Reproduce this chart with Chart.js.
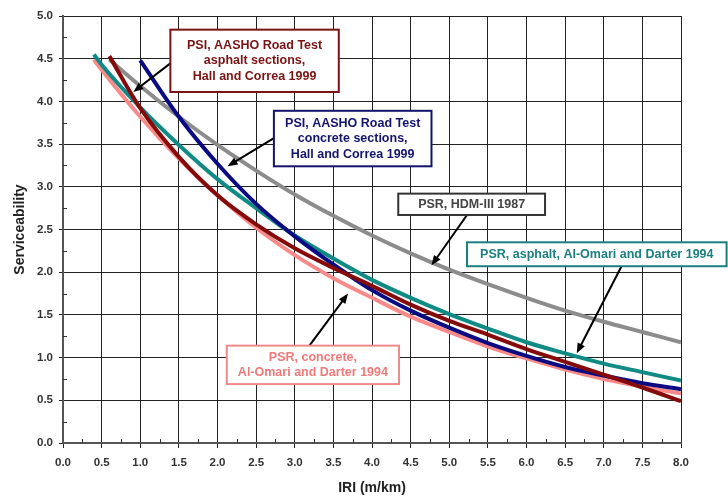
<!DOCTYPE html>
<html>
<head>
<meta charset="utf-8">
<script src="https://cdn.jsdelivr.net/npm/chart.js@4/dist/chart.umd.min.js"></script>
<style>
    html, body { margin: 0; padding: 0; background: #ffffff; }
    #wrap { width: 728px; height: 497px; position: relative; }
</style>
</head>
<body>
<div id="wrap"><canvas id="serviceabilityChart"></canvas></div>
<script>
// IRI values (m/km) for each curve
const iriAlOmari = [0.4, 0.5, 1.0, 1.5, 2.0, 2.5, 3.0, 3.5, 4.0, 4.5, 5.0, 5.5, 6.0, 6.5, 7.0, 7.5, 8.0];
const iriFrom06 = [0.6, 1.0, 1.5, 2.0, 2.5, 3.0, 3.5, 4.0, 4.5, 5.0, 5.5, 6.0, 6.5, 7.0, 7.5, 8.0];
const iriFrom10 = [1.0, 1.5, 2.0, 2.5, 3.0, 3.5, 4.0, 4.5, 5.0, 5.5, 6.0, 6.5, 7.0, 7.5, 8.0];

// Serviceability values
const psrAsphaltAlOmari = [4.55, 4.43, 3.93, 3.49, 3.09, 2.75, 2.43, 2.16, 1.91, 1.70, 1.51, 1.34, 1.18, 1.05, 0.93, 0.83, 0.73];
const psrConcreteAlOmari = [4.49, 4.37, 3.82, 3.33, 2.90, 2.52, 2.20, 1.93, 1.70, 1.48, 1.30, 1.13, 0.99, 0.86, 0.75, 0.66, 0.58];
const psiAsphaltHall = [4.53, 3.92, 3.35, 2.90, 2.56, 2.28, 2.05, 1.84, 1.62, 1.43, 1.27, 1.10, 0.95, 0.80, 0.65, 0.49];
const psrHdm3 = [4.49, 4.18, 3.82, 3.49, 3.19, 2.91, 2.66, 2.43, 2.22, 2.03, 1.86, 1.70, 1.55, 1.42, 1.30, 1.18];
const psiConcreteHall = [4.48, 3.82, 3.27, 2.80, 2.42, 2.09, 1.79, 1.55, 1.35, 1.17, 1.02, 0.89, 0.79, 0.70, 0.63];

// Axis ticks
const xTicks = [0, 0.5, 1, 1.5, 2, 2.5, 3, 3.5, 4, 4.5, 5, 5.5, 6, 6.5, 7, 7.5, 8];
const yTicks = [0, 0.5, 1, 1.5, 2, 2.5, 3, 3.5, 4, 4.5, 5];

// Callout labels
const calloutText = [
    ['PSI, AASHO Road Test', 'asphalt sections,', 'Hall and Correa 1999'],
    ['PSI, AASHO Road Test', 'concrete sections,', 'Hall and Correa 1999'],
    ['PSR, HDM-III 1987'],
    ['PSR, asphalt, Al-Omari and Darter 1994'],
    ['PSR, concrete,', 'Al-Omari and Darter 1994']
];

function toPoints(xs, ys) {
    return xs.map((x, i) => ({ x: x, y: ys[i] }));
}

// Callout boxes: box corners and arrow in data units
const callouts = [
    { text: calloutText[0], box: [1.39, 4.84, 3.57, 4.11], from: [1.41, 4.46], to: [0.91, 4.11], color: '#7a1414', textColor: '#7a1414' },
    { text: calloutText[1], box: [2.73, 3.89, 4.77, 3.24], from: [2.73, 3.57], to: [2.13, 3.24], color: '#14146e', textColor: '#14146e' },
    { text: calloutText[2], box: [4.34, 2.92, 6.24, 2.67], from: [5.23, 2.67], to: [4.77, 2.08], color: '#333333', textColor: '#444444' },
    { text: calloutText[3], box: [5.23, 2.35, 8.59, 2.07], from: [7.23, 2.07], to: [6.65, 1.05], color: '#1a7f7f', textColor: '#1a7f7f' },
    { text: calloutText[4], box: [2.12, 1.14, 4.35, 0.69], from: [3.19, 1.14], to: [3.69, 1.75], color: '#f08a8a', textColor: '#f07a7a' }
];

const calloutPlugin = {
    id: 'callouts',
    afterDatasetsDraw(chart) {
        const ctx = chart.ctx;
        const xs = chart.scales.x;
        const ys = chart.scales.y;
        ctx.save();

        // minor ticks at quarter steps
        ctx.strokeStyle = '#333';
        ctx.lineWidth = 1;
        for (let v = 0.25; v < 8; v += 0.5) {
            const px = Math.round(xs.getPixelForValue(v)) + 0.5;
            ctx.beginPath();
            ctx.moveTo(px, ys.bottom);
            ctx.lineTo(px, ys.bottom - 4);
            ctx.stroke();
        }
        for (let v = 0.25; v < 5; v += 0.5) {
            const py = Math.round(ys.getPixelForValue(v)) + 0.5;
            ctx.beginPath();
            ctx.moveTo(xs.left, py);
            ctx.lineTo(xs.left + 4, py);
            ctx.stroke();
        }

        callouts.forEach(c => {
            const x1 = xs.getPixelForValue(c.box[0]);
            const y1 = ys.getPixelForValue(c.box[1]);
            const x2 = xs.getPixelForValue(c.box[2]);
            const y2 = ys.getPixelForValue(c.box[3]);

            // arrow
            const fx = xs.getPixelForValue(c.from[0]);
            const fy = ys.getPixelForValue(c.from[1]);
            const tx = xs.getPixelForValue(c.to[0]);
            const ty = ys.getPixelForValue(c.to[1]);
            const ang = Math.atan2(ty - fy, tx - fx);
            ctx.strokeStyle = '#000';
            ctx.fillStyle = '#000';
            ctx.lineWidth = 2;
            ctx.beginPath();
            ctx.moveTo(fx, fy);
            ctx.lineTo(tx - 6 * Math.cos(ang), ty - 6 * Math.sin(ang));
            ctx.stroke();
            ctx.beginPath();
            ctx.moveTo(tx, ty);
            ctx.lineTo(tx - 10 * Math.cos(ang) + 4 * Math.sin(ang), ty - 10 * Math.sin(ang) - 4 * Math.cos(ang));
            ctx.lineTo(tx - 10 * Math.cos(ang) - 4 * Math.sin(ang), ty - 10 * Math.sin(ang) + 4 * Math.cos(ang));
            ctx.closePath();
            ctx.fill();

            // box
            ctx.fillStyle = '#ffffff';
            ctx.fillRect(x1, y1, x2 - x1, y2 - y1);
            ctx.strokeStyle = c.color;
            ctx.lineWidth = 2;
            ctx.strokeRect(x1, y1, x2 - x1, y2 - y1);

            // text
            ctx.fillStyle = c.textColor;
            ctx.font = 'bold 12.5px "Liberation Sans", Arial, sans-serif';
            ctx.textAlign = 'center';
            ctx.textBaseline = 'middle';
            const cx = (x1 + x2) / 2;
            const cy = (y1 + y2) / 2;
            const lh = 15.5;
            c.text.forEach((line, i) => {
                ctx.fillText(line, cx, cy + (i - (c.text.length - 1) / 2) * lh);
            });
        });
        ctx.restore();
    }
};

const ctx1 = document.getElementById('serviceabilityChart').getContext('2d');
new Chart(ctx1, {
    type: 'line',
    data: {
        datasets: [
            {
                label: 'PSR, HDM-III 1987',
                data: toPoints(iriFrom06, psrHdm3),
                borderColor: '#8c8c8c',
                order: 5
            },
            {
                label: 'PSR, concrete, Al-Omari and Darter 1994',
                data: toPoints(iriAlOmari, psrConcreteAlOmari),
                borderColor: '#f88a8a',
                order: 4
            },
            {
                label: 'PSR, asphalt, Al-Omari and Darter 1994',
                data: toPoints(iriAlOmari, psrAsphaltAlOmari),
                borderColor: '#0f8a84',
                order: 3
            },
            {
                label: 'PSI, AASHO Road Test concrete sections',
                data: toPoints(iriFrom10, psiConcreteHall),
                borderColor: '#0a0a82',
                order: 2
            },
            {
                label: 'PSI, AASHO Road Test asphalt sections',
                data: toPoints(iriFrom06, psiAsphaltHall),
                borderColor: '#850a0a',
                order: 1
            }
        ]
    },
    options: {
        responsive: true,
        maintainAspectRatio: false,
        animation: false,
        layout: { padding: { top: 16, right: 47, left: 12, bottom: 0 } },
        elements: {
            point: { radius: 0 },
            line: { borderWidth: 4, cubicInterpolationMode: 'monotone', fill: false }
        },
        plugins: {
            legend: { display: false },
            tooltip: { enabled: false }
        },
        scales: {
            x: {
                type: 'linear',
                min: 0,
                max: 8,
                afterBuildTicks: function(scale) {
                    scale.ticks = xTicks.map(v => ({ value: v }));
                },
                afterFit: function(scale) { scale.height = 54; },
                ticks: {
                    color: '#333',
                    font: { family: '"Liberation Sans", Arial, sans-serif', size: 11.5, weight: 'bold' },
                    padding: 8,
                    maxRotation: 0,
                    callback: function(value) { return value.toFixed(1); }
                },
                grid: { color: '#222', lineWidth: 1, tickLength: 5 },
                border: { color: '#555', width: 2 },
                title: {
                    display: true,
                    text: 'IRI (m/km)',
                    color: '#222',
                    font: { family: '"Liberation Sans", Arial, sans-serif', size: 14, weight: 'bold' },
                    padding: { top: 2, bottom: 0 }
                }
            },
            y: {
                min: 0,
                max: 5,
                afterBuildTicks: function(scale) {
                    scale.ticks = yTicks.map(v => ({ value: v }));
                },
                afterFit: function(scale) { scale.width = 51; },
                ticks: {
                    color: '#333',
                    font: { family: '"Liberation Sans", Arial, sans-serif', size: 11.5, weight: 'bold' },
                    padding: 6,
                    callback: function(value) { return value.toFixed(1); }
                },
                grid: { color: '#222', lineWidth: 1, tickLength: 4 },
                border: { color: '#555', width: 2 },
                title: {
                    display: true,
                    text: 'Serviceability',
                    color: '#222',
                    font: { family: '"Liberation Sans", Arial, sans-serif', size: 14, weight: 'bold' },
                    padding: { top: 0, bottom: 0 }
                }
            }
        }
    },
    plugins: [calloutPlugin]
});
</script>
</body>
</html>
